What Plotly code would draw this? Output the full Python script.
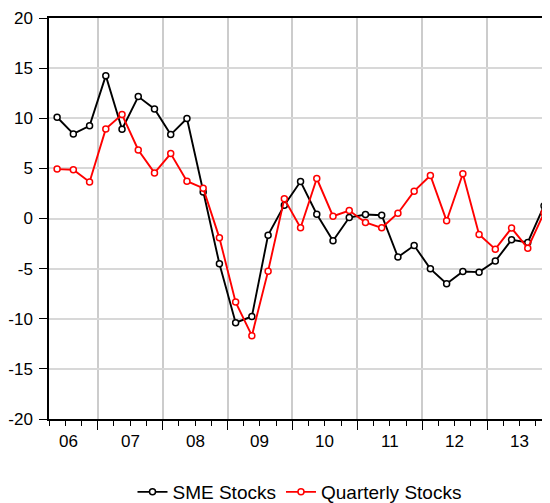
import plotly.graph_objects as go

quarters = ["2006Q2","2006Q3","2006Q4",
            "2007Q1","2007Q2","2007Q3","2007Q4",
            "2008Q1","2008Q2","2008Q3","2008Q4",
            "2009Q1","2009Q2","2009Q3","2009Q4",
            "2010Q1","2010Q2","2010Q3","2010Q4",
            "2011Q1","2011Q2","2011Q3","2011Q4",
            "2012Q1","2012Q2","2012Q3","2012Q4",
            "2013Q1","2013Q2","2013Q3","2013Q4"]

sme_stocks = [10.1, 8.44, 9.24,
              14.25, 8.9, 12.16, 10.93,
              8.37, 9.97, 2.64, -4.52,
              -10.4, -9.77, -1.66, 1.33,
              3.69, 0.43, -2.23, 0.1,
              0.4, 0.33, -3.85, -2.69,
              -5.02, -6.51, -5.28, -5.35,
              -4.25, -2.13, -2.39, 1.26]

quarterly_stocks = [4.93, 4.87, 3.65,
                    8.94, 10.37, 6.84, 4.55,
                    6.48, 3.72, 3.02, -1.93,
                    -8.34, -11.69, -5.25, 1.96,
                    -0.93, 3.99, 0.23, 0.8,
                    -0.4, -0.93, 0.53, 2.73,
                    4.29, -0.23, 4.46, -1.59,
                    -3.06, -0.96, -2.96, 0.56]

year_labels = ["06", "07", "08", "09", "10", "11", "12", "13"]
y_ticks = [20, 15, 10, 5, 0, -5, -10, -15, -20]
y_tick_labels = ["20", "15", "10", "5", "0", "-5", "-10", "-15", "-20"]

# x position: quarter index centred in its slot
x = [i + 0.5 for i in range(len(quarters))]
# year boundaries (first quarter of each year)
boundaries = [i for i, q in enumerate(quarters) if q.endswith("Q1")]
label_pos = []
for yl in year_labels:
    idx = [i for i, q in enumerate(quarters) if q[2:4] == yl]
    label_pos.append(idx)

FONT = "Liberation Sans, Arial, sans-serif"

fig = go.Figure()
fig.add_trace(go.Scatter(
    x=x, y=sme_stocks, name="SME Stocks", mode="lines+markers",
    line=dict(color="black", width=1.9),
    marker=dict(symbol="circle", size=6, color="white",
                line=dict(color="black", width=1.5)),
    cliponaxis=False,
))
fig.add_trace(go.Scatter(
    x=x, y=quarterly_stocks, name="Quarterly Stocks", mode="lines+markers",
    line=dict(color="#ff0000", width=1.9),
    marker=dict(symbol="circle", size=6, color="white",
                line=dict(color="#ff0000", width=1.5)),
    cliponaxis=False,
))

centres = []
for idx in label_pos:
    first_q = int(quarters[idx[0]][-1])
    start = idx[0] - (first_q - 1)
    centres.append(start + 2.0)
centres[0] = 1.2

for c, t in zip(centres, year_labels):
    fig.add_annotation(x=c, y=-0.055, xref="x", yref="paper", text=t,
                       showarrow=False, font=dict(family=FONT, size=17, color="black"),
                       xanchor="center", yanchor="middle")

# page body has an 8px margin: figure is sized/offset to compensate
fig.update_layout(
    width=542, height=495,
    margin=dict(l=41, r=0, t=10, b=84, autoexpand=False),
    paper_bgcolor="white", plot_bgcolor="white",
    font=dict(family=FONT, size=17, color="black"),
    showlegend=True,
    legend=dict(orientation="h", x=0.5, xanchor="center", y=-0.182, yanchor="middle",
                font=dict(family=FONT, size=19, color="black"),
                itemwidth=30, tracegroupgap=0),
    xaxis=dict(range=[0, 30.87], tickvals=boundaries, showticklabels=False,
               ticks="outside", ticklen=9, tickwidth=1.2, tickcolor="black",
               showgrid=True, gridcolor="#cccccc", gridwidth=1.5,
               showline=True, linecolor="black", linewidth=1.5, mirror=True,
               zeroline=False, automargin=False,
               minor=dict(tick0=0, dtick=1, ticks="outside", ticklen=5,
                          tickwidth=1, tickcolor="black", showgrid=False)),
    yaxis=dict(range=[-20, 20], tickvals=y_ticks, ticktext=y_tick_labels,
               ticks="outside", ticklen=8, ticklabelstandoff=3,
               tickwidth=1.2, tickcolor="black",
               showgrid=True, gridcolor="#d8d8d8", gridwidth=1.5,
               showline=True, linecolor="black", linewidth=1.5,
               zeroline=False, automargin=False,
               tickfont=dict(family=FONT, size=17, color="black")),
)

fig.write_html("out.html")
